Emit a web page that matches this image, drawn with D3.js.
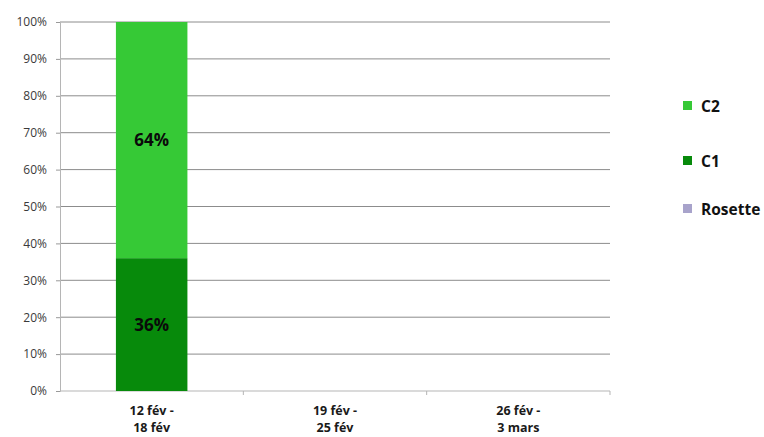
<!DOCTYPE html>
<html>
<head>
<meta charset="utf-8">
<script src="https://cdn.jsdelivr.net/npm/d3@7"></script>
<style>
body { margin: 0; background: #fff; }
svg text { font-family: "Open Sans", "Liberation Sans", sans-serif; }
</style>
</head>
<body>
<svg id="chart" width="764" height="437"></svg>
<script>
// data
var categories = [["12 fév -", "18 fév"], ["19 fév -", "25 fév"], ["26 fév -", "3 mars"]];
var rosette = [0, null, null];
var c1 = [0.36, null, null];
var c2 = [0.64, null, null];
var yTicks = [0, 0.1, 0.2, 0.3, 0.4, 0.5, 0.6, 0.7, 0.8, 0.9, 1];
var seriesNames = ["Rosette", "C1", "C2"];
var legendNames = ["C2", "C1", "Rosette"];

var colors = { "Rosette": "#a8a3cb", "C1": "#078a0b", "C2": "#36c936" };

var svg = d3.select('#chart');
var plotLeft = 60, plotRight = 610, plotTop = 22, plotBottom = 391;

var x = d3.scaleBand()
    .domain(d3.range(categories.length))
    .range([plotLeft, plotRight])
    .paddingInner(0)
    .paddingOuter(0);

var y = d3.scaleLinear().domain([0, 1]).range([plotBottom, plotTop]);

// gridlines
svg.append('g')
    .selectAll('line')
    .data(yTicks.slice(1))
    .enter().append('line')
    .attr('x1', plotLeft).attr('x2', plotRight)
    .attr('y1', function(d) { return y(d); })
    .attr('y2', function(d) { return y(d); })
    .attr('stroke', '#8c8c8c')
    .attr('stroke-width', 1);

// y axis
var yAxis = svg.append('g')
    .attr('transform', 'translate(' + plotLeft + ',0)')
    .call(d3.axisLeft(y).tickValues(yTicks).tickFormat(d3.format('.0%')).tickSize(4).tickPadding(9));
yAxis.select('.domain').attr('stroke', '#b5b5b5');
yAxis.selectAll('.tick line').attr('stroke', '#999');
yAxis.selectAll('.tick text').attr('fill', '#3a3a3a').style('font-size', '12px');

// x axis
var xAxis = svg.append('g')
    .attr('transform', 'translate(0,' + plotBottom + ')');
xAxis.append('line')
    .attr('x1', plotLeft).attr('x2', plotRight)
    .attr('stroke', '#b5b5b5');
xAxis.selectAll('.sep')
    .data(d3.range(categories.length))
    .enter().append('line')
    .attr('class', 'sep')
    .attr('x1', function(d) { return x(d) + x.bandwidth(); })
    .attr('x2', function(d) { return x(d) + x.bandwidth(); })
    .attr('y1', 0).attr('y2', 4)
    .attr('stroke', '#b5b5b5');
var labels = xAxis.selectAll('.lab')
    .data(categories)
    .enter().append('text')
    .attr('class', 'lab')
    .attr('x', function(d, i) { return x(i) + x.bandwidth() / 2; })
    .attr('text-anchor', 'middle')
    .attr('fill', '#1a1a1a')
    .style('font-size', '12.5px')
    .style('font-weight', 'bold');
labels.append('tspan').attr('x', function(d, i) { return x(i) + x.bandwidth() / 2; })
    .attr('y', 24).text(function(d) { return d[0]; });
labels.append('tspan').attr('x', function(d, i) { return x(i) + x.bandwidth() / 2; })
    .attr('y', 41).text(function(d) { return d[1]; });

// stacked bars
var rows = categories.map(function(c, i) {
    return { i: i, Rosette: rosette[i] || 0, C1: c1[i] || 0, C2: c2[i] || 0 };
});
var stack = d3.stack().keys(seriesNames)(rows);
var barW = x.bandwidth() * 0.39;

stack.forEach(function(layer) {
    var g = svg.append('g');
    layer.forEach(function(d, i) {
        if (d[1] - d[0] <= 0) return;
        var cx = x(i) + x.bandwidth() / 2;
        g.append('rect')
            .attr('x', cx - barW / 2)
            .attr('width', barW)
            .attr('y', y(d[1]))
            .attr('height', y(d[0]) - y(d[1]))
            .attr('fill', colors[layer.key]);
        g.append('text')
            .attr('x', cx)
            .attr('y', (y(d[0]) + y(d[1])) / 2 + 6)
            .attr('text-anchor', 'middle')
            .attr('fill', '#0a0a0a')
            .style('font-size', '17px')
            .style('font-weight', 'bold')
            .text(d3.format('.0%')(d[1] - d[0]));
    });
});

// legend
var legY = [106, 161, 209];
var leg = svg.append('g').selectAll('g')
    .data(legendNames)
    .enter().append('g')
    .attr('transform', function(d, i) { return 'translate(683,' + legY[i] + ')'; });
leg.append('rect')
    .attr('x', 0).attr('y', -5)
    .attr('width', 9).attr('height', 9)
    .attr('fill', function(d) { return colors[d]; });
leg.append('text')
    .attr('x', 18).attr('y', 6)
    .attr('fill', '#111')
    .style('font-size', '15.5px')
    .style('font-weight', 'bold')
    .text(function(d) { return d; });
</script>
</body>
</html>
